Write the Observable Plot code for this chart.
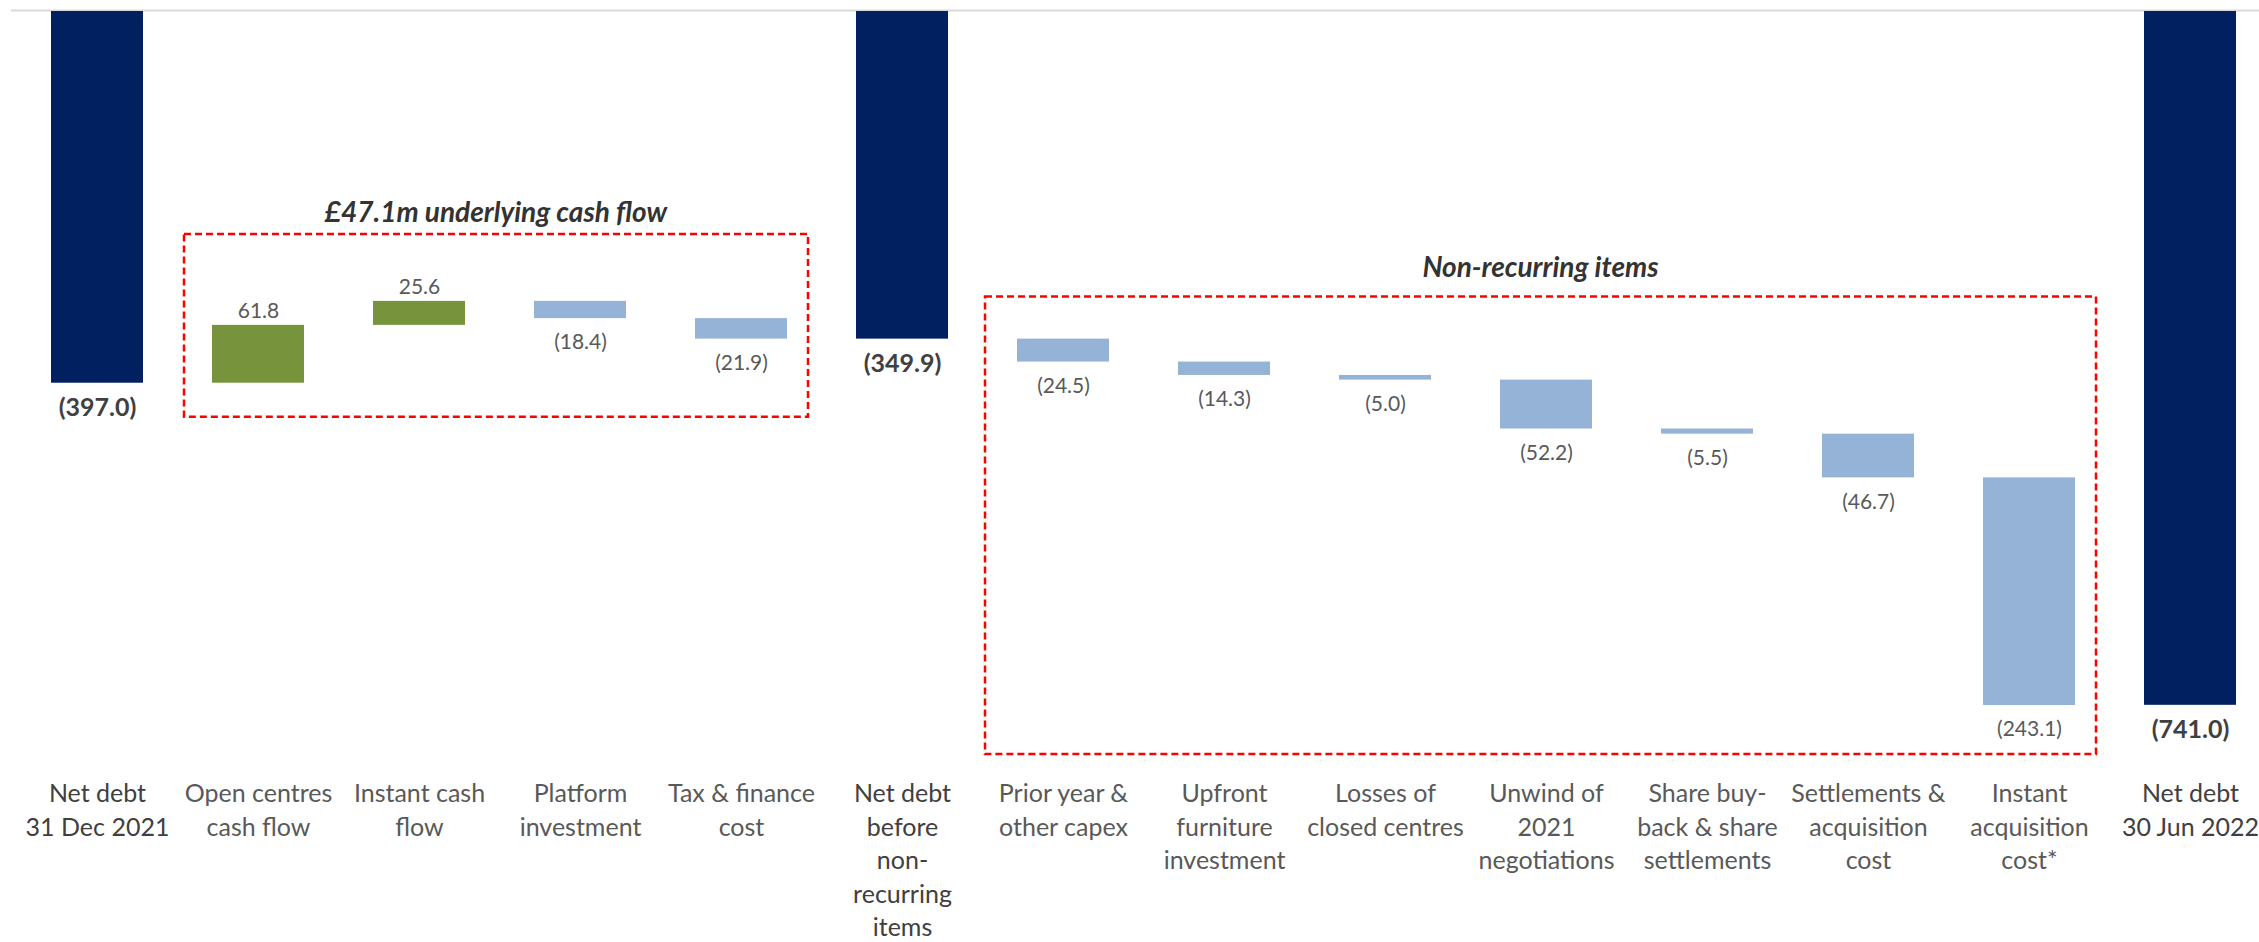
<!DOCTYPE html>
<html><head><meta charset="utf-8">
<script src="https://cdn.jsdelivr.net/npm/d3@7"></script>
<script src="https://cdn.jsdelivr.net/npm/@observablehq/plot@0.6"></script>
<style>html,body{margin:0;padding:0;background:#fff;overflow:hidden}</style>
</head><body><div id="chart"></div>
<script>
// ---- data ----
const categories = [
  "Net debt 31 Dec 2021", "Open centres cash flow", "Instant cash flow", "Platform investment",
  "Tax & finance cost", "Net debt before non-recurring items", "Prior year & other capex",
  "Upfront furniture investment", "Losses of closed centres", "Unwind of 2021 negotiations",
  "Share buy-back & share settlements", "Settlements & acquisition cost", "Instant acquisition cost*",
  "Net debt 30 Jun 2022"
];
const tickLabels = [
  "Net debt\n31 Dec 2021", "Open centres\ncash flow", "Instant cash\nflow", "Platform\ninvestment",
  "Tax & finance\ncost", "Net debt\nbefore\nnon-\nrecurring\nitems", "Prior year &\nother capex",
  "Upfront\nfurniture\ninvestment", "Losses of\nclosed centres", "Unwind of\n2021\nnegotiations",
  "Share buy-\nback & share\nsettlements", "Settlements &\nacquisition\ncost", "Instant\nacquisition\ncost*",
  "Net debt\n30 Jun 2022"
];
const kinds = ["total","change","change","change","change","total","change","change","change","change","change","change","change","total"];
const values = [-397.0, 61.8, 25.6, -18.4, -21.9, -349.9, -24.5, -14.3, -5.0, -52.2, -5.5, -46.7, -243.1, -741.0];
const groupTitles = ["£47.1m underlying cash flow", "Non-recurring items"];
const groupFirst = [1, 6];
const groupLast = [4, 12];

// ---- build waterfall rows ----
let run = 0;
const rows = categories.map((c, i) => {
  const v = values[i];
  let y1, y2;
  if (kinds[i] === "total") { y1 = 0; y2 = v; run = v; }
  else { y1 = run; y2 = run + v; run = y2; }
  const type = kinds[i] === "total" ? "total" : (v >= 0 ? "up" : "down");
  return {cat: c, label: tickLabels[i], type, value: v, y1, y2,
          top: Math.max(y1, y2), bottom: Math.min(y1, y2)};
});
const fmt = v => v < 0 ? `(${d3.format(".1f")(-v)})` : d3.format(".1f")(v);

const groups = groupTitles.map((t, g) => ({title: t, first: groupFirst[g], last: groupLast[g]}));
const boxPad = [{l: 28, r: 21, t: 67, b: 34, title: 22}, {l: 32, r: 21, t: 42, b: 49, title: 29}];

function groupBoxes(index, scales, values, dims) {
  const ns = "http://www.w3.org/2000/svg";
  const gEl = document.createElementNS(ns, "g");
  const x = scales.x, y = scales.y;
  const bw = typeof x.bandwidth === "function" ? x.bandwidth() : x.bandwidth;
  groups.forEach((g, k) => {
    const members = rows.slice(g.first, g.last + 1);
    const p = boxPad[k];
    const left = x(rows[g.first].cat) - p.l;
    const right = x(rows[g.last].cat) + bw + p.r;
    const top = y(d3.max(members, d => d.top)) - p.t;
    const bottom = y(d3.min(members, d => d.bottom)) + p.b;
    const r = document.createElementNS(ns, "rect");
    r.setAttribute("x", left); r.setAttribute("y", top);
    r.setAttribute("width", right - left); r.setAttribute("height", bottom - top);
    r.setAttribute("fill", "none"); r.setAttribute("stroke", "#FF0000");
    r.setAttribute("stroke-width", 2.5); r.setAttribute("stroke-dasharray", "7,4");
    gEl.appendChild(r);
    const t = document.createElementNS(ns, "text");
    t.setAttribute("x", (left + right) / 2); t.setAttribute("y", top - p.title);
    t.setAttribute("dy", "0.35em");
    t.setAttribute("text-anchor", "middle");
    t.setAttribute("font-size", 28); t.setAttribute("font-weight", "bold");
    t.setAttribute("font-style", "italic"); t.setAttribute("fill", "#333333");
    t.textContent = g.title;
    gEl.appendChild(t);
  });
  return gEl;
}

const chart = Plot.plot({
  width: 2259, height: 942,
  marginTop: 11, marginBottom: 162, marginLeft: 46, marginRight: 19,
  style: {fontFamily: "Lato, 'Open Sans', sans-serif", background: "#fff"},
  x: {domain: categories, paddingInner: 0.43, paddingOuter: 0, axis: null},
  y: {domain: [-821.3, 0], axis: null},
  color: {domain: ["total", "up", "down"], range: ["#002060", "#77933C", "#95B3D7"]},
  marks: [
    Plot.ruleY([0], {stroke: "#D9D9D9", strokeWidth: 2, dy: -1, insetLeft: -35, insetRight: -19}),
    Plot.barY(rows, {x: "cat", y1: "y1", y2: "y2", fill: "type"}),
    Plot.text(rows.filter(d => d.type === "up"), {x: "cat", y: "top", text: d => fmt(d.value), dy: -14,
      fontSize: 21, fill: "#595959"}),
    Plot.text(rows.filter(d => d.type === "down"), {x: "cat", y: "bottom", text: d => fmt(d.value), dy: 24,
      fontSize: 21, fill: "#595959"}),
    Plot.text(rows.filter(d => d.type === "total"), {x: "cat", y: "bottom", text: d => fmt(d.value), dy: 25,
      fontSize: 25, fontWeight: "bold", fill: "#404040"}),
    Plot.text(rows, {x: "cat", text: "label", frameAnchor: "bottom", lineAnchor: "top", dy: -2,
      fontSize: 25, lineHeight: 1.34,
      fontWeight: d => d.type === "total" ? "bold" : "normal",
      fill: d => d.type === "total" ? "#404040" : "#595959"}),
    groupBoxes
  ]
});
document.getElementById("chart").appendChild(chart);
</script>
</body></html>
